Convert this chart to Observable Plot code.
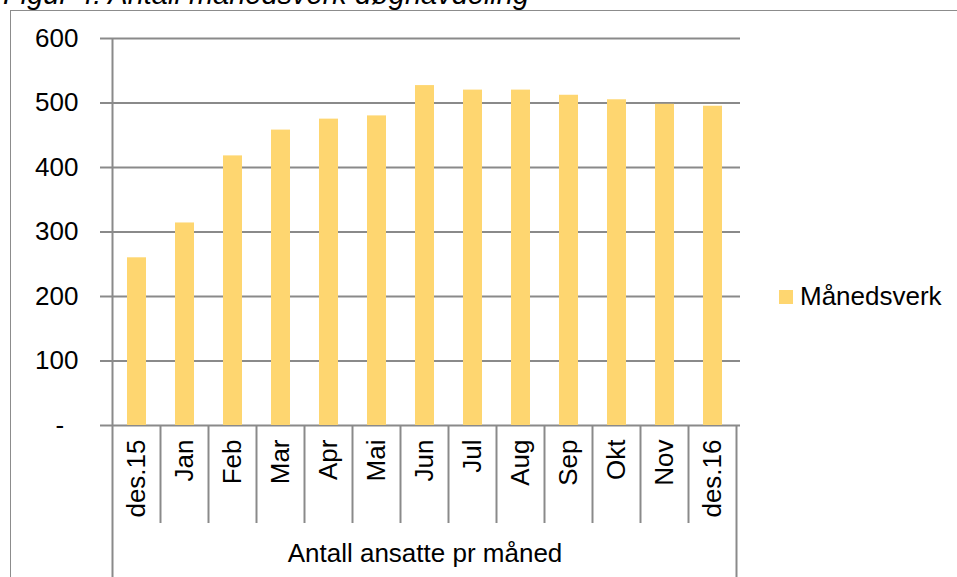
<!DOCTYPE html>
<html>
<head>
<meta charset="utf-8">
<script src="https://cdn.jsdelivr.net/npm/d3@7"></script>
<script src="https://cdn.jsdelivr.net/npm/@observablehq/plot@0.6"></script>
<style>
  body { margin: 0; background: #fff; }
  #wrap { position: relative; width: 957px; height: 577px; overflow: hidden; font-family: "Liberation Sans", Arial, sans-serif; }
  #title { position: absolute; left: 3px; top: -20px; font-size: 29px; line-height: 29px; font-style: italic; white-space: nowrap; color: #000; }
  #border { position: absolute; left: 10px; top: 10px; width: 1200px; height: 1200px; border: 1px solid #8c8c8c; box-sizing: border-box; }
  #chart { position: absolute; left: 0; top: 0; }
  #legend { position: absolute; left: 779px; top: 281px; display: flex; align-items: center; font-size: 26px; color: #000; }
  #legend .sw { width: 14px; height: 14px; margin-right: 7px; }
</style>
</head>
<body>
<div id="wrap">
  <div id="border"></div>
  <div id="title">Figur 4: Antall månedsverk døgnavdeling</div>
  <div id="chart"></div>
  <div id="legend"></div>
</div>
<script>
const months = ["des.15","Jan","Feb","Mar","Apr","Mai","Jun","Jul","Aug","Sep","Okt","Nov","des.16"];
const values = [260, 314, 418, 458, 475, 480, 527, 520, 520, 512, 505, 498, 495];
const yTicks = [0, 100, 200, 300, 400, 500, 600];
const seriesName = "Månedsverk";
const groupLabel = "Antall ansatte pr måned";
const barColor = "#FED670";
const gridColor = "#8a8a8a";

const data = months.map((m, i) => ({month: m, value: values[i]}));

const chart = Plot.plot({
  width: 957,
  height: 577,
  marginLeft: 109,
  marginRight: 217,
  marginTop: 38,
  marginBottom: 152,
  style: {fontFamily: '"Liberation Sans", Arial, sans-serif', fontSize: "26px", color: "#000", background: "transparent", overflow: "visible"},
  x: {domain: months, paddingInner: 0.6, paddingOuter: 0.3},
  y: {domain: [0, 600]},
  marks: [
    Plot.ruleY(yTicks, {stroke: gridColor, strokeWidth: 2}),
    Plot.barY(data, {x: "month", y: "value", fill: barColor}),
    Plot.axisY({ticks: yTicks, tickSize: 9, tickPadding: 22, stroke: gridColor, strokeWidth: 2, strokeOpacity: 1,
      tickFormat: d => d === 0 ? "-\u00a0\u00a0" : String(d), fontSize: 26, label: null}),
    Plot.axisX({tickRotate: -90, tickSize: 0, tickPadding: 14, fontSize: 26, label: null}),
    Plot.text([groupLabel], {frameAnchor: "bottom", dy: 128, fontSize: 26, lineAnchor: "middle"})
  ]
});
document.getElementById("chart").appendChild(chart);

// Category-box decorations (Excel style multi-level axis), from the scales
const xs = chart.scale("x");
const ys = chart.scale("y");
const half = (xs.step - xs.bandwidth) / 2;
const y0 = ys.apply(0);
const yTop = ys.apply(600);
const g = d3.select(chart).append("g").attr("stroke", gridColor).attr("stroke-width", 2);
const left = xs.apply(months[0]) - half;
const right = xs.apply(months[months.length - 1]) + xs.bandwidth + half;
g.append("line").attr("x1", left).attr("x2", left).attr("y1", yTop).attr("y2", 577);
g.append("line").attr("x1", right).attr("x2", right).attr("y1", y0).attr("y2", 577);
months.slice(1).forEach(m => {
  const x = xs.apply(m) - half;
  g.append("line").attr("x1", x).attr("x2", x).attr("y1", y0).attr("y2", y0 + 98);
});

// Legend
const lg = document.getElementById("legend");
lg.innerHTML = `<div class="sw" style="background:${barColor}"></div><span>${seriesName}</span>`;
</script>
</body>
</html>
